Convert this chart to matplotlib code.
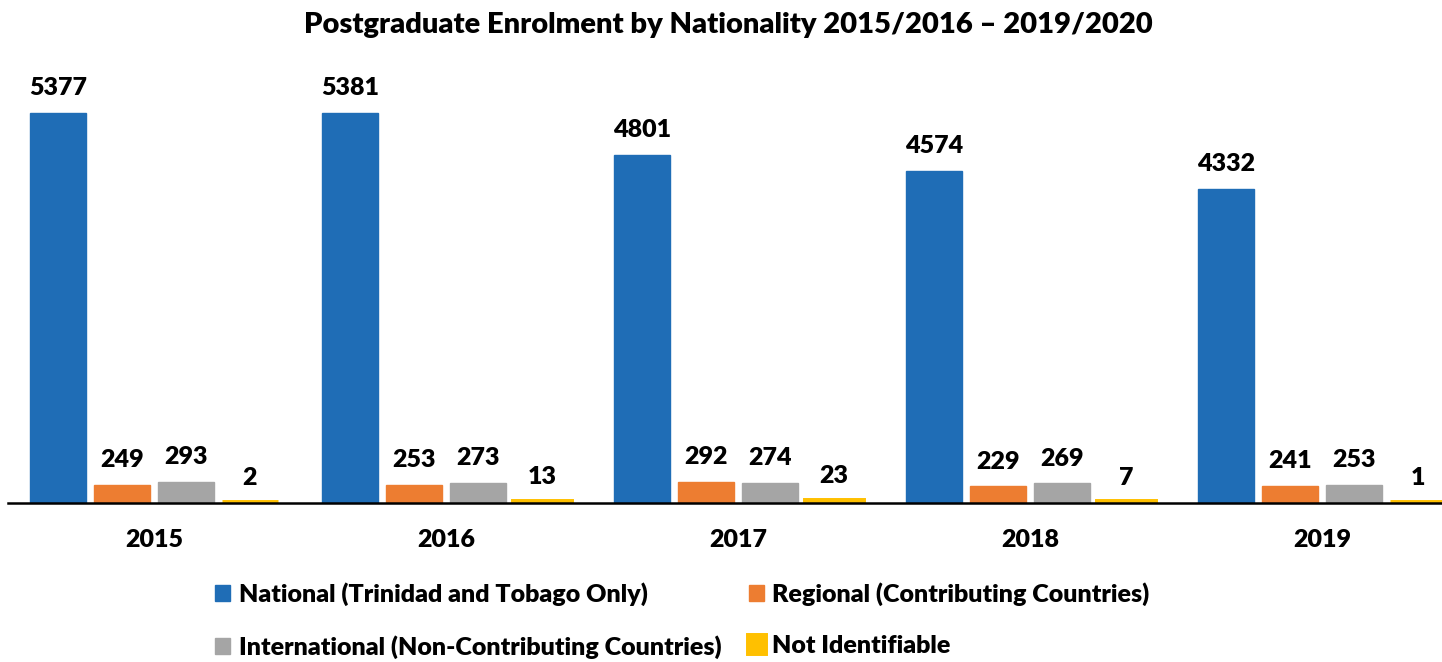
import numpy as np
import matplotlib.pyplot as plt

plt.rcParams['font.family'] = ['Lato', 'DejaVu Sans']

# data
years = ['2015', '2016', '2017', '2018', '2019']
national = [5377, 5381, 4801, 4574, 4332]
regional = [249, 253, 292, 229, 241]
international = [293, 273, 274, 269, 253]
not_identifiable = [2, 13, 23, 7, 1]

series = [
    ('National (Trinidad and Tobago Only)', national, '#1f6db6'),
    ('Regional (Contributing Countries)', regional, '#ed7d31'),
    ('International (Non-Contributing Countries)', international, '#a5a5a5'),
    ('Not Identifiable', not_identifiable, '#ffc000'),
]

fig = plt.figure(figsize=(14.42, 6.62), dpi=100)
ax = fig.add_axes([0.0, 1 - 503 / 662, 1.0, 443 / 662])

x = np.arange(len(years))
step = 64 / 292
width = 56 / 292
offsets = (np.arange(4) - 1.5) * step

handles = []
for i, ((name, vals, col), off) in enumerate(zip(series, offsets)):
    lw = 5 if i == 3 else 1.0  # tiny values still show a thin bar
    bars = ax.bar(x + off, vals, width, color=col, edgecolor=col, linewidth=lw,
                  label=name)
    handles.append(bars)
    for xi, v in zip(x + off, vals):
        ax.annotate(str(v), (xi, v), xytext=(0, 10), textcoords='offset points',
                    ha='center', va='bottom', fontsize=18, fontweight='heavy')

ax.set_xlim(-0.527, 4.41)
ax.set_ylim(0, 6110)
ax.set_yticks([])
ax.set_xticks(x)
ax.set_xticklabels(years, fontsize=18, fontweight='heavy')
ax.tick_params(axis='x', length=0, pad=19)
for s in ['top', 'right', 'left']:
    ax.spines[s].set_visible(False)
ax.spines['bottom'].set_linewidth(1.8)
ax.spines['bottom'].set_bounds(-0.5, 4.41)
ax.spines['bottom'].set_zorder(5)

fig.text(0.505, 0.962, 'Postgraduate Enrolment by Nationality 2015/2016 \u2013 2019/2020',
         ha='center', va='center', fontsize=21, fontweight='heavy')

order = [0, 2, 1, 3]
fig.legend(handles=[handles[k] for k in order], loc='upper left',
           bbox_to_anchor=(0.142, 0.135), ncol=2, frameon=False,
           prop={'size': 18, 'weight': 'heavy'},
           handlelength=0.6, handleheight=0.6, handletextpad=0.35,
           columnspacing=1.1, labelspacing=1.15, borderaxespad=0)

fig.savefig('out.png', dpi=100)
